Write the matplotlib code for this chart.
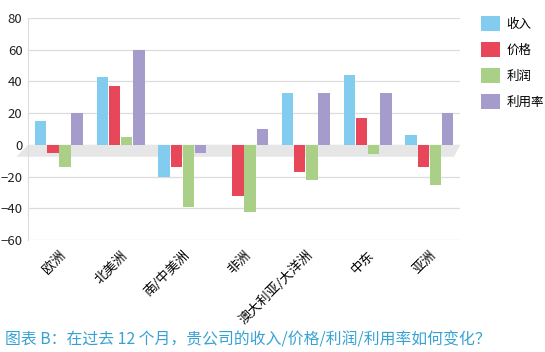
import numpy as np
import matplotlib.pyplot as plt
from matplotlib.patches import Polygon

plt.rcParams['font.family'] = ['Noto Sans CJK SC', 'DejaVu Sans']

regions = ['欧洲', '北美洲', '南/中美洲', '非洲', '澳大利亚/大洋洲', '中东', '亚洲']
series = ['收入', '价格', '利润', '利用率']
income = [15, 43, -20, 0, 33, 44, 6]
price = [-5, 37, -14, -32, -17, 17, -14]
profit = [-14, 5, -39, -42, -22, -6, -25]
usage = [20, 60, -5, 10, 33, 33, 20]
colors = ['#82cdef', '#e8475a', '#aacf86', '#a59ccc']

fig = plt.figure(figsize=(5.45, 3.52), dpi=100)
ax = fig.add_axes([0.0514, 0.318, 0.793, 0.631])

x = np.arange(len(regions))
w = 0.185
step = 0.197

# grey "3d" floor under the zero line
floor = Polygon([[-0.69, -7.5], [6.4, -7.5], [6.5, 0], [-0.5, 0]],
                closed=True, facecolor='#e6e6e6', edgecolor='none', zorder=1,
                clip_on=False)
ax.add_patch(floor)

for i, (vals, c, name) in enumerate(zip([income, price, profit, usage], colors, series)):
    ax.bar(x + (i - 1.5) * step, vals, width=w, color=c, label=name, zorder=3)

ax.set_xlim(-0.5, 6.5)
ax.set_ylim(-60, 80)
ax.set_yticks(range(-60, 81, 20))
ax.grid(axis='y', color='#dcdcdc', linewidth=0.9, zorder=0)
ax.set_axisbelow(True)
for s in ['top', 'right', 'bottom']:
    ax.spines[s].set_visible(False)
ax.spines['left'].set_color('#dcdcdc')
ax.tick_params(axis='y', length=0, labelsize=9.5, pad=4, labelcolor='#222222')
ax.tick_params(axis='x', length=0, pad=6)
ax.set_xticks(x)
ax.set_xticklabels(regions, rotation=45, ha='right', va='top',
                   rotation_mode='anchor', fontsize=9.5)

leg = fig.legend(loc='upper left', bbox_to_anchor=(0.8826, 0.955), frameon=False,
                 fontsize=9, handlelength=1.5, handleheight=1.5,
                 labelspacing=0.86, handletextpad=0.55,
                 borderpad=0, borderaxespad=0)

fig.text(0.01, 0.022, '图表 B：在过去 12 个月，贵公司的收入/价格/利润/利用率如何变化？',
         color='#36a2d4', fontsize=11.4, fontweight='medium')

fig.savefig('out.png', dpi=100)
